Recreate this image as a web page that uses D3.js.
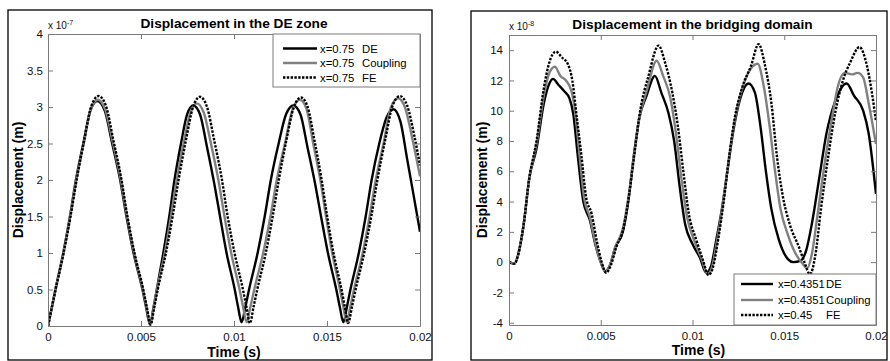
<!DOCTYPE html>
<html><head><meta charset="utf-8">
<script src="https://cdn.jsdelivr.net/npm/d3@7"></script>
<style>
body{margin:0;background:#fff}
svg{display:block}
text{font-family:Arial,"Liberation Sans",Helvetica,sans-serif}
</style>
</head><body>
<svg id="c" width="890" height="361"></svg>
<script>
// ---------- data (time in ms, values in 1e-7 m / 1e-8 m) ----------
const xTicks = [0, 0.005, 0.01, 0.015, 0.02];
const xTickLabels = ["0", "0.005", "0.01", "0.015", "0.02"];
const leftYTicks = [0, 0.5, 1, 1.5, 2, 2.5, 3, 3.5, 4];
const rightYTicks = [-4, -2, 0, 2, 4, 6, 8, 10, 12, 14];

const leftLegend = [["x=0.75", "DE"], ["x=0.75", "Coupling"], ["x=0.75", "FE"]];
const rightLegend = [["x=0.4351", "DE"], ["x=0.4351", "Coupling"], ["x=0.45", "FE"]];

const leftDE = [[0,0],[0.4,0.5],[0.82,1.0],[1.18,1.5],[1.5,2.0],[1.9,2.5],[2.28,2.95],[2.65,3.08],
 [3.05,2.95],[3.45,2.5],[3.88,2.0],[4.22,1.5],[4.6,1.0],[5.08,0.5],[5.28,0.25],[5.48,0.02],[5.67,0.25],
 [5.85,0.5],[6.2,1.0],[6.52,1.5],[6.8,2.0],[7.15,2.5],[7.48,2.9],[7.81,3.02],
 [8.17,2.9],[8.55,2.45],[8.94,1.95],[9.25,1.5],[9.6,1.0],[10.04,0.5],[10.22,0.26],[10.41,0.05],[10.61,0.26],
 [10.81,0.5],[11.27,1.0],[11.65,1.5],[11.98,2.0],[12.4,2.5],[12.8,2.9],[13.19,3.02],
 [13.57,2.9],[13.95,2.45],[14.36,1.95],[14.68,1.5],[15.05,1.0],[15.5,0.5],[15.69,0.26],[15.88,0.05],[16.07,0.26],
 [16.26,0.5],[16.71,1.0],[17.08,1.5],[17.4,2.0],[17.81,2.5],[18.19,2.85],[18.57,2.97],
 [18.95,2.8],[19.3,2.3],[19.65,1.8],[20,1.29]];
const leftCoupling = [[0,0],[0.4,0.5],[0.83,1.0],[1.19,1.5],[1.52,2.0],[1.92,2.5],[2.3,2.97],[2.68,3.10],
 [3.07,2.97],[3.48,2.52],[3.9,2.02],[4.25,1.5],[4.63,1.0],[5.1,0.5],[5.3,0.25],[5.5,0.02],[5.68,0.25],
 [5.86,0.5],[6.28,1.0],[6.61,1.5],[6.92,2.0],[7.29,2.5],[7.65,2.92],[8.0,3.05],
 [8.38,2.92],[8.76,2.5],[9.16,2.0],[9.49,1.5],[9.85,1.0],[10.3,0.5],[10.49,0.26],[10.68,0.05],[10.88,0.26],
 [11.09,0.5],[11.57,1.0],[11.96,1.5],[12.3,2.0],[12.74,2.5],[13.15,2.97],[13.55,3.1],
 [13.9,2.97],[14.26,2.5],[14.64,2.0],[14.95,1.5],[15.28,1.0],[15.7,0.5],[15.88,0.26],[16.06,0.05],[16.25,0.26],
 [16.45,0.5],[16.92,1.0],[17.29,1.5],[17.62,2.0],[18.04,2.5],[18.43,2.99],[18.82,3.12],
 [19.2,2.99],[19.6,2.55],[20,2.05]];
const leftFE = [[0,0],[0.41,0.5],[0.84,1.0],[1.21,1.5],[1.54,2.0],[1.95,2.55],[2.34,3.02],[2.72,3.15],
 [3.11,3.02],[3.51,2.55],[3.94,2.02],[4.27,1.5],[4.65,1.0],[5.12,0.5],[5.32,0.25],[5.52,0.02],[5.71,0.25],
 [5.9,0.5],[6.34,1.0],[6.7,1.5],[7.02,2.0],[7.42,2.55],[7.8,3.0],[8.17,3.14],
 [8.55,3.0],[8.93,2.55],[9.34,2.02],[9.66,1.5],[10.03,1.0],[10.48,0.5],[10.67,0.26],[10.86,0.04],[11.05,0.26],
 [11.25,0.5],[11.71,1.0],[12.08,1.5],[12.41,2.0],[12.82,2.55],[13.22,3.0],[13.6,3.13],
 [13.96,3.0],[14.32,2.55],[14.7,2.02],[15.01,1.5],[15.35,1.0],[15.78,0.5],[15.96,0.26],[16.14,0.04],[16.34,0.26],
 [16.54,0.5],[17.0,1.0],[17.38,1.5],[17.71,2.0],[18.13,2.55],[18.53,3.02],[18.92,3.15],
 [19.31,3.02],[19.7,2.6],[20,2.2]];

const rightDE = [[0,0],[0.3,-0.1],[0.5,0.5],[0.8,2.5],[1.1,5.5],[1.5,7.5],[1.9,10.5],[2.2,11.8],[2.4,12.1],
 [2.7,11.7],[3.0,11.3],[3.3,10.8],[3.5,9.8],[3.75,7],[4.05,4],[4.4,2.8],[4.7,1.2],[5.0,0],[5.25,-0.6],
 [5.5,-0.2],[5.8,1.0],[6.2,2.0],[6.5,4],[6.8,7],[7.1,9.5],[7.5,11],[7.95,12.3],
 [8.3,11.2],[8.7,9.8],[9.0,8.0],[9.3,5],[9.6,2.5],[10.0,1.2],[10.4,0.3],[10.75,-0.7],
 [11.0,-0.3],[11.3,1.5],[11.6,3.5],[11.9,6],[12.2,8.5],[12.6,10.8],[13.05,11.8],
 [13.4,11.2],[13.7,9],[14.0,6],[14.3,3.5],[14.7,1.5],[15.2,0.2],[15.5,0],[15.9,0.1],
 [16.2,0.8],[16.5,2.5],[16.9,5.5],[17.3,8.5],[17.8,10.7],[18.4,11.8],
 [18.8,11],[19.3,10],[19.6,8.5],[20,4.5]];
const rightCoupling = [[0,0],[0.3,-0.1],[0.5,0.5],[0.8,2.5],[1.1,5.5],[1.5,7.8],[1.9,11],[2.2,12.5],[2.5,12.9],
 [2.8,12.3],[3.1,12.0],[3.4,11.3],[3.6,10],[3.85,7],[4.1,4.2],[4.4,3.0],[4.7,1.3],[5.0,0],[5.25,-0.65],
 [5.5,-0.2],[5.8,1.0],[6.2,2.2],[6.5,4.2],[6.8,7],[7.1,9.5],[7.5,11.3],[8.05,13.3],
 [8.4,12.3],[8.8,10.8],[9.1,8.5],[9.4,5.5],[9.7,3],[10.1,1.4],[10.5,0.2],[10.82,-0.8],
 [11.05,-0.4],[11.35,1.5],[11.65,3.8],[11.95,6.5],[12.25,9],[12.6,11],[13.55,13.1],
 [13.9,11.5],[14.2,9],[14.5,6],[14.8,3.5],[15.2,1.8],[15.6,0.6],[16.0,-0.1],[16.25,-0.4],
 [16.5,0.5],[16.8,3],[17.2,6.5],[17.6,9.5],[17.9,11.5],[18.3,12.5],[18.7,12.4],[19.0,12.5],
 [19.3,12.2],[19.6,10.5],[20,7.8]];
const rightFE = [[0,0],[0.3,-0.1],[0.5,0.5],[0.8,2.5],[1.1,5.5],[1.5,8],[1.9,11.5],[2.2,13.2],[2.55,13.9],
 [2.9,13.5],[3.2,13.1],[3.45,12],[3.7,9.5],[3.95,7],[4.2,4.3],[4.5,3.2],[4.8,1.3],[5.05,0],[5.3,-0.7],
 [5.55,-0.2],[5.85,1.0],[6.25,2.3],[6.55,4.5],[6.85,7.3],[7.15,10],[7.6,12.3],[8.15,14.3],
 [8.5,13.2],[8.9,11.2],[9.2,9],[9.5,6],[9.8,3.2],[10.2,1.5],[10.55,0.2],[10.88,-0.85],
 [11.1,-0.4],[11.4,1.5],[11.7,4],[12.0,7],[12.3,9.5],[12.7,11.5],[13.2,13],[13.6,14.4],
 [13.95,13],[14.3,10.5],[14.6,7],[14.9,4.5],[15.3,2.5],[15.8,1],[16.1,0],[16.4,-0.8],
 [16.7,0.5],[17.0,3.5],[17.4,7],[17.8,10],[18.2,12],[18.6,13.2],[19.1,14.2],
 [19.5,13],[19.8,11],[20,9.3]];

// ---------- drawing ----------
const svg = d3.select("#c");
svg.append("rect").attr("width",890).attr("height",361).attr("fill","#fff");

const styles = [
  {stroke:"#000", width:2.4, dash:null},
  {stroke:"#808080", width:2.4, dash:null},
  {stroke:"#000", width:2.4, dash:"2.4,1.4"}
];

function panel(cfg){
  const g = svg.append("g");
  g.append("rect").attr("x",cfg.frame[0]).attr("y",cfg.frame[1])
    .attr("width",cfg.frame[2]).attr("height",cfg.frame[3])
    .attr("fill","none").attr("stroke","#000").attr("stroke-width",1.3);
  const [L,T,R,B] = cfg.plot;
  const x = d3.scaleLinear().domain([0,0.02]).range([L,R]);
  const y = d3.scaleLinear().domain(cfg.yDomain).range([B,T]);
  const clipId = "clip"+cfg.id;
  g.append("clipPath").attr("id",clipId).append("rect")
    .attr("x",L).attr("y",T-2).attr("width",R-L).attr("height",B-T+4);
  const line = d3.line().x(d=>x(d[0]/1000)).y(d=>y(d[1])).curve(d3.curveMonotoneX);
  const lg = g.append("g").attr("clip-path",`url(#${clipId})`);
  cfg.series.forEach((s,i)=>{
    lg.append("path").datum(s).attr("d",line).attr("fill","none")
      .attr("stroke",styles[i].stroke).attr("stroke-width",styles[i].width)
      .attr("stroke-dasharray",styles[i].dash).attr("stroke-linejoin","round");
  });
  const axCol = "#7a7a7a";
  const fmtX = (d,i)=>xTickLabels[i];
  const bottom = g.append("g").attr("transform",`translate(0,${B})`)
    .call(d3.axisBottom(x).tickValues(xTicks).tickFormat(fmtX).tickSizeInner(-5).tickSizeOuter(0).tickPadding(7));
  const top = g.append("g").attr("transform",`translate(0,${T})`)
    .call(d3.axisTop(x).tickValues(xTicks).tickFormat("").tickSizeInner(-5).tickSizeOuter(0));
  const left = g.append("g").attr("transform",`translate(${L},0)`)
    .call(d3.axisLeft(y).tickValues(cfg.yTicks).tickFormat(d=>String(d)).tickSizeInner(-5).tickSizeOuter(0).tickPadding(cfg.yPad));
  const right = g.append("g").attr("transform",`translate(${R},0)`)
    .call(d3.axisRight(y).tickValues(cfg.yTicks).tickFormat("").tickSizeInner(-5).tickSizeOuter(0));
  [bottom,top,left,right].forEach(a=>{
    a.select(".domain").attr("stroke",axCol).attr("stroke-width",1);
    a.selectAll(".tick line").attr("stroke",axCol);
    a.selectAll("text").attr("fill","#111").attr("font-size",11.5)
      .attr("font-family","Arial, 'Liberation Sans', sans-serif");
  });
  const ex = g.append("text").attr("x",L).attr("y",T-5).attr("font-size",10).attr("fill","#111");
  ex.append("tspan").text("x 10");
  ex.append("tspan").attr("dy",-4).attr("font-size",7).text(cfg.exp);
  g.append("text").attr("x",(L+R)/2).attr("y",T-6.5).attr("text-anchor","middle")
    .attr("font-weight","bold").attr("font-size",13.7).attr("fill","#000").text(cfg.title);
  g.append("text").attr("x",(L+R)/2+cfg.xlabDx).attr("y",cfg.xlabY).attr("text-anchor","middle")
    .attr("font-weight","bold").attr("font-size",14).attr("fill","#000").text("Time (s)");
  g.append("text").attr("transform",`translate(${cfg.ylabX},${(T+B)/2}) rotate(-90)`)
    .attr("text-anchor","middle").attr("font-weight","bold").attr("font-size",14).attr("fill","#000")
    .text("Displacement (m)");
  const [lx,ly,lw,lh] = cfg.legendBox;
  const leg = g.append("g");
  leg.append("rect").attr("x",lx).attr("y",ly).attr("width",lw).attr("height",lh)
    .attr("fill","#fff").attr("stroke",axCol).attr("stroke-width",1);
  cfg.legend.forEach((lab,i)=>{
    const cy = cfg.legendRows[i];
    leg.append("line").attr("x1",cfg.legendLine[0]).attr("x2",cfg.legendLine[1])
      .attr("y1",cy).attr("y2",cy).attr("stroke",styles[i].stroke)
      .attr("stroke-width",styles[i].width).attr("stroke-dasharray",styles[i].dash);
    leg.append("text").attr("x",cfg.legendText[0]).attr("y",cy).attr("dy","0.36em")
      .attr("font-size",11.3).attr("fill","#000").text(lab[0]);
    leg.append("text").attr("x",cfg.legendText[1]).attr("y",cy).attr("dy","0.36em")
      .attr("font-size",11.3).attr("fill","#000").text(lab[1]);
  });
}

panel({
  id:"L", frame:[8,10,424,350], plot:[48,34,420,326], yDomain:[0,4], yTicks:leftYTicks, yPad:5,
  exp:"-7", title:"Displacement in the DE zone", xlabY:357, xlabDx:0, ylabX:23,
  series:[leftDE,leftCoupling,leftFE],
  legendBox:[273,34,147,53], legendRows:[48.5,63,77.5], legendLine:[283,317], legendText:[320,362],
  legend:leftLegend
});
panel({
  id:"R", frame:[471,11,416,349], plot:[509,35,876,325], yDomain:[-4.15,15], yTicks:rightYTicks, yPad:6,
  exp:"-8", title:"Displacement in the bridging domain", xlabY:355, xlabDx:6, ylabX:487,
  series:[rightDE,rightCoupling,rightFE],
  legendBox:[734,274,142,51], legendRows:[284,300,315], legendLine:[741,773], legendText:[778,826],
  legend:rightLegend
});
</script>
</body></html>
